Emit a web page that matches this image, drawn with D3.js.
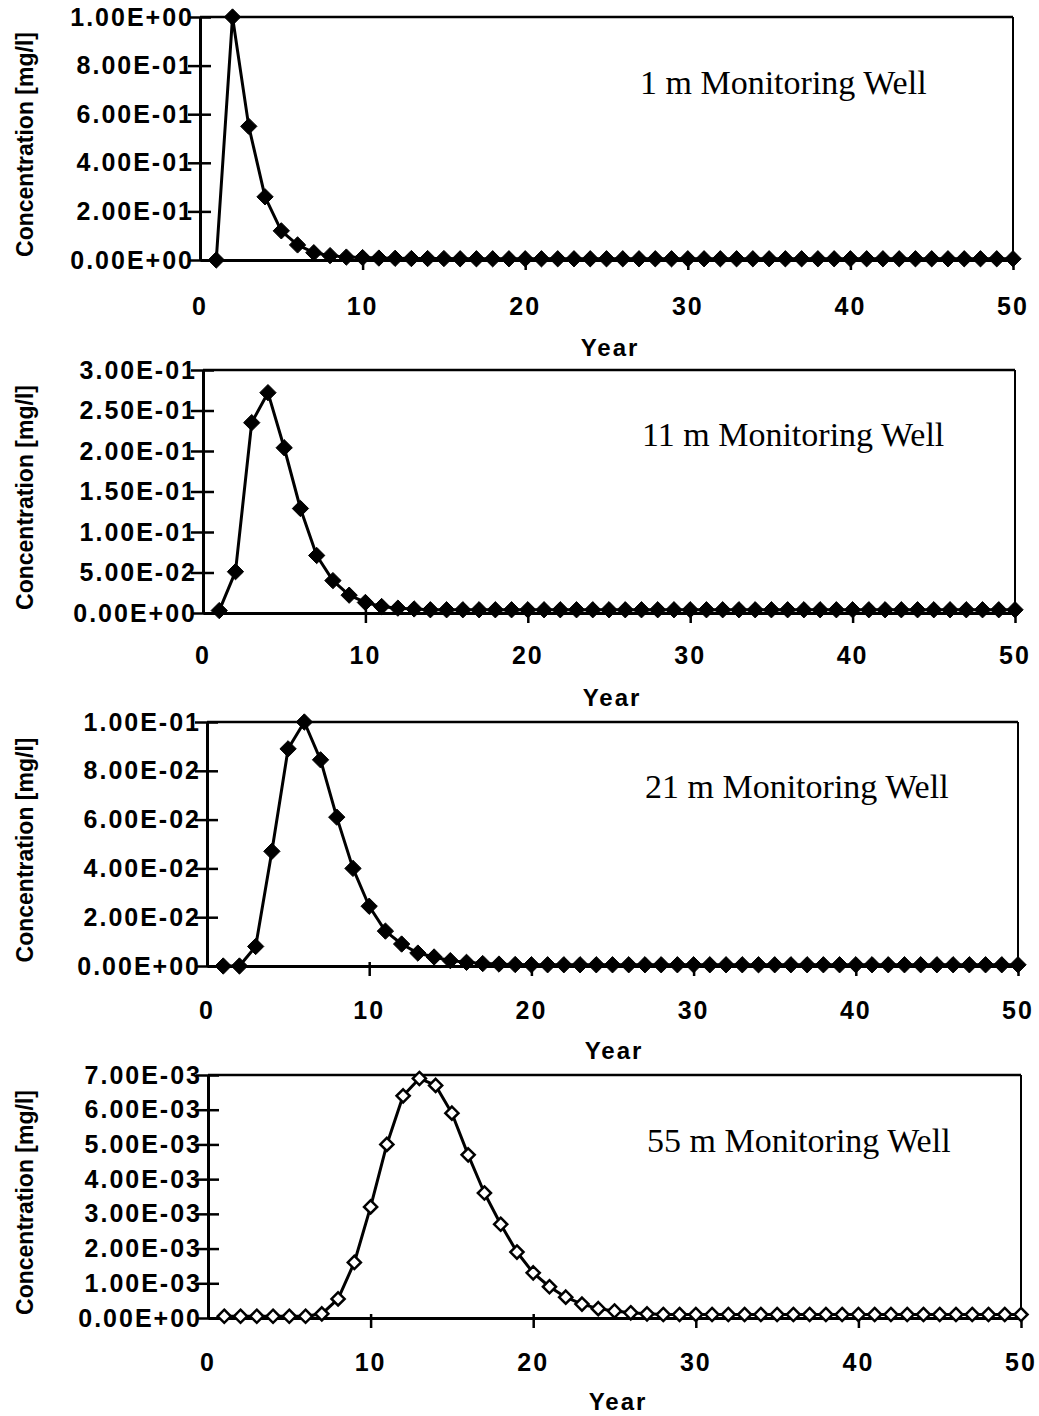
<!DOCTYPE html>
<html>
<head>
<meta charset="utf-8">
<script src="https://cdn.jsdelivr.net/npm/d3@7"></script>
<style>
  html, body { margin: 0; padding: 0; background: #fff; }
  svg text { fill: #000; }
  .tick-label { font-family: "Liberation Sans", Arial, sans-serif; font-weight: bold; font-size: 25px; letter-spacing: 2px; }
  .axis-title { font-family: "Liberation Sans", Arial, sans-serif; font-weight: bold; font-size: 23px; }
  .year-title { font-family: "Liberation Sans", Arial, sans-serif; font-weight: bold; font-size: 24px; letter-spacing: 2px; }
  .well-title { font-family: "Liberation Serif", "Times New Roman", serif; font-size: 34px; }
</style>
</head>
<body>
<svg id="fig" width="1039" height="1416"></svg>
<script>
/* Breakthrough curves at four monitoring wells, years 1-50 */
var years = d3.range(1, 51);

var conc1m = [0, 1.0, 0.55, 0.26, 0.12, 0.062, 0.03, 0.018, 0.012, 0.01,
  0.008, 0.007, 0.006, 0.006, 0.006, 0.005, 0.005, 0.005, 0.005, 0.005,
  0.005, 0.005, 0.005, 0.005, 0.005, 0.005, 0.005, 0.005, 0.005, 0.005,
  0.005, 0.005, 0.005, 0.005, 0.005, 0.005, 0.005, 0.005, 0.005, 0.005,
  0.005, 0.005, 0.005, 0.005, 0.005, 0.005, 0.005, 0.005, 0.005, 0.005];

var conc11m = [0.003, 0.051, 0.235, 0.272, 0.204, 0.129, 0.071, 0.040, 0.022, 0.013,
  0.008, 0.006, 0.005, 0.004, 0.004, 0.004, 0.004, 0.004, 0.004, 0.004,
  0.004, 0.004, 0.004, 0.004, 0.004, 0.004, 0.004, 0.004, 0.004, 0.004,
  0.004, 0.004, 0.004, 0.004, 0.004, 0.004, 0.004, 0.004, 0.004, 0.004,
  0.004, 0.004, 0.004, 0.004, 0.004, 0.004, 0.004, 0.004, 0.004, 0.004];

var conc21m = [0, 0, 0.008, 0.047, 0.089, 0.1, 0.0845, 0.061, 0.040, 0.0245,
  0.0143, 0.009, 0.0053, 0.0037, 0.0022, 0.0015, 0.001, 0.0008, 0.0006, 0.0005,
  0.0005, 0.0005, 0.0005, 0.0005, 0.0005, 0.0005, 0.0005, 0.0005, 0.0005, 0.0005,
  0.0005, 0.0005, 0.0005, 0.0005, 0.0005, 0.0005, 0.0005, 0.0005, 0.0005, 0.0005,
  0.0005, 0.0005, 0.0005, 0.0005, 0.0005, 0.0005, 0.0005, 0.0005, 0.0005, 0.0005];

var conc55m = [0.00005, 0.00005, 0.00005, 0.00005, 0.00005, 0.00005, 0.00012, 0.00055, 0.0016, 0.0032,
  0.0050, 0.0064, 0.0069, 0.0067, 0.0059, 0.0047, 0.0036, 0.0027, 0.0019, 0.0013,
  0.0009, 0.0006, 0.0004, 0.00027, 0.0002, 0.00015, 0.00012, 0.0001, 0.0001, 0.0001,
  0.0001, 0.0001, 0.0001, 0.0001, 0.0001, 0.0001, 0.0001, 0.0001, 0.0001, 0.0001,
  0.0001, 0.0001, 0.0001, 0.0001, 0.0001, 0.0001, 0.0001, 0.0001, 0.0001, 0.0001];

var yTicks1m = [0, 0.2, 0.4, 0.6, 0.8, 1.0];
var yTicks11m = [0, 0.05, 0.1, 0.15, 0.2, 0.25, 0.3];
var yTicks21m = [0, 0.02, 0.04, 0.06, 0.08, 0.1];
var yTicks55m = [0, 0.001, 0.002, 0.003, 0.004, 0.005, 0.006, 0.007];
var xTickLabels = [0, 10, 20, 30, 40, 50];
var xTickMarks = [10, 20, 30, 40, 50];

var titles = ['1 m Monitoring Well', '11 m Monitoring Well', '21 m Monitoring Well', '55 m Monitoring Well'];

// Excel-style scientific labels, e.g. 5.00E-02
function sci(v) {
  if (v === 0) return '0.00E+00';
  var e = Math.floor(Math.log10(v) + 1e-9);
  var m = v / Math.pow(10, e);
  var s = e < 0 ? '-' : '+';
  var ae = Math.abs(e);
  return m.toFixed(2) + 'E' + s + (ae < 10 ? '0' : '') + ae;
}

var panels = [
  { data: conc1m, ticks: yTicks1m, left: 200, right: 1013, top: 17, bottom: 260, xLabY: 315, yearX: 610, yearY: 356, tx: 640, ty: 94, open: false },
  { data: conc11m, ticks: yTicks11m, left: 203, right: 1015, top: 370, bottom: 613, xLabY: 664, yearX: 612, yearY: 706, tx: 642, ty: 446, open: false },
  { data: conc21m, ticks: yTicks21m, left: 207, right: 1018, top: 722, bottom: 966, xLabY: 1019, yearX: 614, yearY: 1059, tx: 645, ty: 798, open: false },
  { data: conc55m, ticks: yTicks55m, left: 208, right: 1021, top: 1075, bottom: 1318, xLabY: 1371, yearX: 618, yearY: 1410, tx: 647, ty: 1152, open: true }
];

var svg = d3.select('#fig');

panels.forEach(function (p, i) {
  var g = svg.append('g');
  var x = d3.scaleLinear().domain([0, 50]).range([p.left, p.right]);
  var y = d3.scaleLinear().domain([0, p.ticks[p.ticks.length - 1]]).range([p.bottom, p.top]);

  /* frame: top and right thinner */
  g.append('line').attr('x1', p.left).attr('x2', p.right).attr('y1', p.top).attr('y2', p.top)
    .attr('stroke', '#000').attr('stroke-width', 2.5);
  g.append('line').attr('x1', p.right).attr('x2', p.right).attr('y1', p.top).attr('y2', p.bottom)
    .attr('stroke', '#000').attr('stroke-width', 2);

  /* y axis with crossing ticks */
  var yAxis = d3.axisLeft(y).tickValues(p.ticks).tickFormat(sci).tickSize(0).tickPadding(6);
  var ya = g.append('g').attr('transform', 'translate(' + p.left + ',0)').call(yAxis);
  ya.attr('font-size', null).attr('font-family', null);
  ya.select('.domain').attr('stroke', '#000').attr('stroke-width', 3);
  ya.selectAll('.tick text').attr('class', 'tick-label').attr('fill', '#000');
  ya.selectAll('.tick').append('line').attr('x1', -12).attr('x2', 11)
    .attr('stroke', '#000').attr('stroke-width', 2.5);

  /* x axis */
  var xAxis = d3.axisBottom(x).tickValues(xTickMarks).tickFormat('').tickSize(0);
  var xa = g.append('g').attr('transform', 'translate(0,' + p.bottom + ')').call(xAxis);
  xa.select('.domain').attr('stroke', '#000').attr('stroke-width', 3);
  xa.selectAll('.tick').append('line').attr('y1', -4).attr('y2', 10)
    .attr('stroke', '#000').attr('stroke-width', 2.5);

  g.selectAll('.xlab').data(xTickLabels).enter().append('text')
    .attr('class', 'tick-label')
    .attr('x', function (d) { return x(d); })
    .attr('y', p.xLabY)
    .attr('text-anchor', 'middle')
    .text(function (d) { return d; });

  g.append('text').attr('class', 'year-title').attr('x', p.yearX).attr('y', p.yearY)
    .attr('text-anchor', 'middle').text('Year');

  g.append('text').attr('class', 'axis-title')
    .attr('transform', 'translate(33,' + ((p.top + p.bottom) / 2 + 6) + ') rotate(-90)')
    .attr('text-anchor', 'middle').text('Concentration [mg/l]');

  g.append('text').attr('class', 'well-title').attr('x', p.tx).attr('y', p.ty)
    .text(titles[i]);

  /* series */
  var line = d3.line().x(function (d, k) { return x(years[k]); }).y(function (d) { return y(d); });
  g.append('path').datum(p.data).attr('d', line)
    .attr('fill', 'none').attr('stroke', '#000').attr('stroke-width', 3).attr('stroke-linejoin', 'round');

  var sym = d3.symbol().type(d3.symbolDiamond2).size(p.open ? 110 : 170);
  g.selectAll('.pt').data(p.data).enter().append('path')
    .attr('transform', function (d, k) { return 'translate(' + x(years[k]) + ',' + y(d) + ')'; })
    .attr('d', sym)
    .attr('fill', p.open ? '#fff' : '#000')
    .attr('stroke', '#000')
    .attr('stroke-width', p.open ? 2.5 : 1);
});
</script>
</body>
</html>
